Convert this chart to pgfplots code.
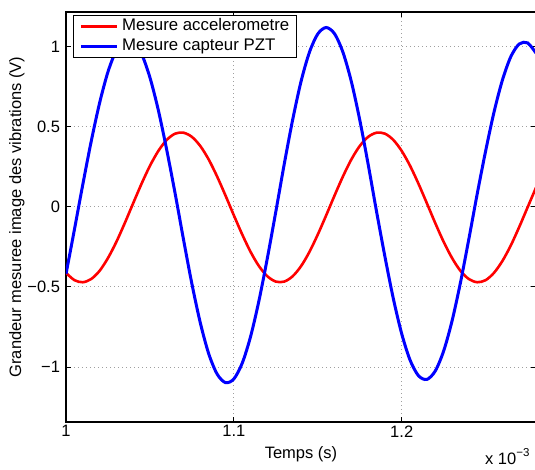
\documentclass[border=0pt]{standalone}
\usepackage{pgfplots}
\usepackage{pgfplotstable}
\pgfplotsset{compat=1.18}
\usepackage{fontspec}
\setmainfont{Liberation Sans}

\pgfplotstableread{
t acc pzt
1.000 -0.412 -0.420
1.005 -0.458 -0.143
1.010 -0.471 0.139
1.015 -0.451 0.408
1.020 -0.400 0.648
1.025 -0.320 0.843
1.030 -0.219 0.978
1.035 -0.102 1.044
1.040 0.022 1.037
1.045 0.144 0.956
1.050 0.256 0.808
1.055 0.349 0.604
1.060 0.418 0.356
1.065 0.457 0.084
1.070 0.463 -0.204
1.075 0.437 -0.481
1.080 0.380 -0.724
1.085 0.296 -0.917
1.090 0.190 -1.044
1.095 0.071 -1.098
1.100 -0.053 -1.075
1.105 -0.173 -0.976
1.110 -0.282 -0.809
1.115 -0.371 -0.584
1.120 -0.434 -0.318
1.125 -0.467 -0.030
1.130 -0.467 0.266
1.135 -0.434 0.542
1.140 -0.371 0.782
1.145 -0.282 0.965
1.150 -0.173 1.080
1.155 -0.053 1.120
1.160 0.071 1.081
1.165 0.190 0.965
1.170 0.296 0.782
1.175 0.380 0.543
1.180 0.437 0.266
1.185 0.463 -0.029
1.190 0.457 -0.311
1.195 0.418 -0.573
1.200 0.349 -0.793
1.205 0.256 -0.958
1.210 0.144 -1.055
1.215 0.022 -1.078
1.220 -0.102 -1.025
1.225 -0.219 -0.900
1.230 -0.320 -0.712
1.235 -0.400 -0.473
1.240 -0.451 -0.201
1.245 -0.471 0.082
1.250 -0.458 0.349
1.255 -0.412 0.592
1.260 -0.338 0.792
1.265 -0.241 0.938
1.270 -0.126 1.017
1.275 -0.003 1.024
1.280 0.120 0.960
}\datatable

\begin{document}
\begin{tikzpicture}[font=\fontsize{16.5}{19.8}\selectfont]
\begin{axis}[
  scale only axis, width=470pt, height=410pt, at={(0pt,0pt)}, anchor=south west,
  xmin=1, xmax=1.28, ymin=-1.344, ymax=1.217,
  xtick={1,1.1,1.2}, xticklabels={1,1.1,1.2},
  ytick={-1,-0.5,0,0.5,1}, yticklabels={−1,−0.5,0,0.5,1},
  tick align=inside, major tick length=5pt,
  tick style={black, line width=0.8pt},
  axis line style={black, line width=1.2pt},
  grid=major,
  major grid style={gray!75, line width=0.8pt, dash pattern=on 0.8pt off 3.2pt},
  yticklabel style={xshift=-2.5pt},
  xlabel={Temps (s)},
  ylabel={Grandeur mesuree image des vibrations (V)},
  xlabel style={at={(axis description cs:0.5,0)}, anchor=base, yshift=-37pt},
  ylabel style={at={(axis description cs:-0.1043,0.5)}, anchor=center},
  legend style={at={(axis description cs:0.0149,0.9927)}, anchor=north west,
    draw=black, line width=1pt, fill=white,
    font=\fontsize{16.8}{20}\selectfont,
    inner xsep=6pt, inner ysep=2.5pt, row sep=2pt, column sep=2.7pt,
    nodes={inner sep=1pt, text height=12pt, text depth=3.5pt},
    cells={anchor=west}},
  legend image code/.code={\draw[#1] (0pt,0pt) -- (36pt,0pt);},
]
\addplot[color={rgb,255:red,255;green,0;blue,0}, line width=2.6pt, smooth] table[x=t, y=acc] {\datatable};
\addlegendentry{Mesure accelerometre}
\addplot[color={rgb,255:red,0;green,0;blue,255}, line width=3pt, smooth] table[x=t, y=pzt] {\datatable};
\addlegendentry{Mesure capteur PZT}
\end{axis}
\node[anchor=base east] at (467pt,-43pt) {x 10\raisebox{0.5em}{\fontsize{11.5}{13}\selectfont −3}};
\pgfresetboundingbox
\useasboundingbox (-66pt,-48pt) rectangle (469pt,422pt);
\end{tikzpicture}
\end{document}
